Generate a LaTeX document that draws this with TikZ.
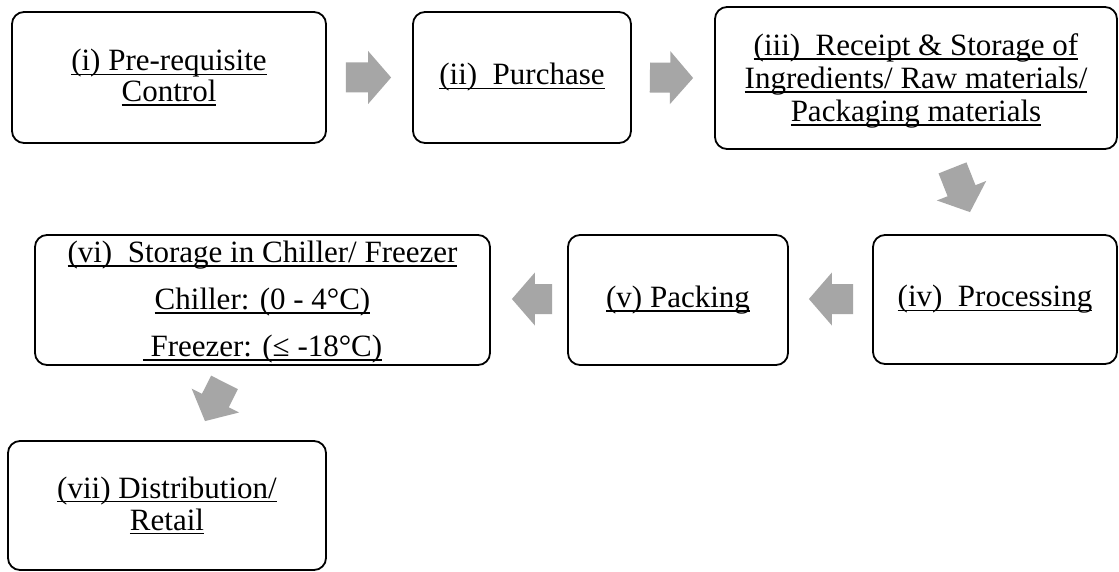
\documentclass[tikz,border=0pt]{standalone}
\usepackage{fontspec}
\setmainfont{Liberation Serif}
\usetikzlibrary{calc}
\definecolor{arrowgray}{RGB}{166,166,166}
\newcommand{\ulx}[1]{\leavevmode\setbox0=\hbox{#1}\rlap{\rule[-0.135em]{\wd0}{0.05em}}\box0}
\newcommand{\blockarrow}[2]{%
  \coordinate (#1-n) at ($(#2)!23pt!(#1)$);
  \fill[arrowgray] ($(#1)!15pt!90:(#2)$) -- ($(#1-n)!15pt!90:(#2)$) -- ($(#1-n)!26.5pt!90:(#2)$) -- (#2) -- ($(#1-n)!26.5pt!-90:(#2)$) -- ($(#1-n)!15pt!-90:(#2)$) -- ($(#1)!15pt!-90:(#2)$) -- cycle;}
\begin{document}
\begin{tikzpicture}[x=1pt,y=-1pt,
  box/.style={draw=black, line width=1.8pt, rounded corners=12pt, align=center, inner sep=0pt, fill=white},
  txt/.style={font={\fontsize{31}{#1}\selectfont}}]
\useasboundingbox (0,0) rectangle (1119,572);
\fill[white] (0,0) rectangle (1119,572);

\node[box, txt=30.5, minimum width=314, minimum height=131] (b1) at (169,77.5)
  {\ulx{(i) Pre-requisite}\\\ulx{Control}};
\node[box, txt=31, minimum width=218, minimum height=131] (b2) at (522,77.5)
  {\ulx{(ii)\ \ Purchase}};
\node[box, txt=33, minimum width=402, minimum height=142] (b3) at (916,78)
  {\rule{0pt}{27.5pt}\ulx{(iii)\ \ Receipt \& Storage of}\\\ulx{Ingredients/ Raw materials/}\\\ulx{Packaging materials}};
\node[box, txt=31, minimum width=244, minimum height=129] (b4) at (995,299.5)
  {\ulx{(iv)\ \ Processing}};
\node[box, txt=31, minimum width=220, minimum height=130] (b5) at (678,300)
  {\ulx{(v) Packing}};
\node[box, txt=47, minimum width=455, minimum height=130] (b6) at (262.5,300)
  {\rule{0pt}{25.5pt}\ulx{(vi)\ \ Storage in Chiller/ Freezer}\\\ulx{Chiller: (0 - 4°C)}\\\ulx{\ Freezer: (≤ -18°C)}};
\node[box, txt=32, minimum width=318, minimum height=129] (b7) at (167,505.5)
  {\ulx{(vii) Distribution/}\\\ulx{Retail}};

\coordinate (a1s) at ($(b1.east)+(19,0)$);
\coordinate (a1e) at ($(b2.west)+(-21,0)$);
\coordinate (a2s) at ($(b2.east)+(18,0)$);
\coordinate (a2e) at ($(b3.west)+(-21,0)$);
\coordinate (a3s) at ($(b3.south)+(36.5,18)$);
\coordinate (a3e) at ($(b4.north)+(-25,-22)$);
\coordinate (a4s) at ($(b4.west)+(-19,-0.5)$);
\coordinate (a4e) at ($(b5.east)+(20,-1)$);
\coordinate (a5s) at ($(b5.west)+(-15,-1)$);
\coordinate (a5e) at ($(b6.east)+(21,-1)$);
\coordinate (a6s) at ($(b6.south)+(-38,16.5)$);
\coordinate (a6e) at ($(b7.north)+(38,-19)$);

\blockarrow{a1s}{a1e}
\blockarrow{a2s}{a2e}
\blockarrow{a3s}{a3e}
\blockarrow{a4s}{a4e}
\blockarrow{a5s}{a5e}
\blockarrow{a6s}{a6e}
\end{tikzpicture}
\end{document}
